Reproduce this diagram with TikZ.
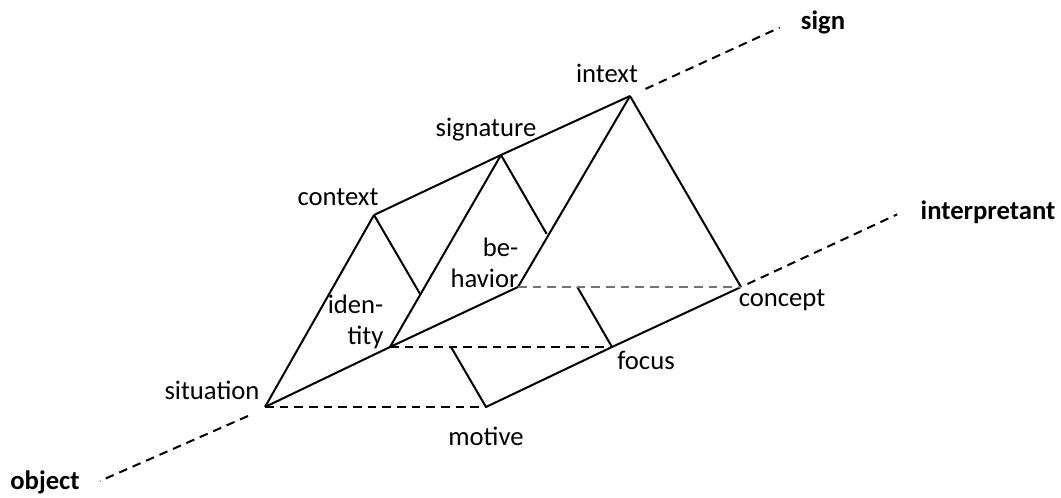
\documentclass[tikz,border=0pt]{standalone}
\usepackage{fontspec}
\setmainfont{Carlito}
\usepackage{tikz}
\usetikzlibrary{calc}
\tikzset{
  edge/.style={draw=black,line width=1.5pt,line join=miter},
  hid/.style={draw=black,line width=1.5pt,dash pattern=on 6.5pt off 4.5pt},
  ghid/.style={hid,draw=black!55},
  lab/.style={font=\fontsize{20}{23}\selectfont,inner sep=1pt},
  blab/.style={lab,font=\fontsize{20}{23}\selectfont\bfseries},
}
\begin{document}
\begin{tikzpicture}[x=0.75pt,y=-0.75pt]
\useasboundingbox (0,0) rectangle (1061,497);
% corners of the three triangles
\coordinate (sit) at (265,407);
\coordinate (ctx) at (374,215);
\coordinate (mot) at (486,407);
\coordinate (idn) at (390,347);
\coordinate (sig) at (501,155);
\coordinate (foc) at (612,347);
\coordinate (beh) at (518,287);
\coordinate (int) at (630,96);
\coordinate (con) at (741,287);
% where the back edges are cut
\coordinate (ctxA) at ($(ctx)!0.411!(mot)$);
\coordinate (ctxB) at ($(ctx)!0.6875!(mot)$);
\coordinate (sigA) at ($(sig)!0.411!(foc)$);
\coordinate (sigB) at ($(sig)!0.6875!(foc)$);
% free ends of the axes
\coordinate (signA) at ($(sig)!1.12!(int)$);
\coordinate (signB) at ($(sig)!2.16!(int)$);
\coordinate (intpA) at ($(foc)!1.05!(con)$);
\coordinate (intpB) at ($(foc)!2.21!(con)$);
\coordinate (objA) at (248,416);
\coordinate (objB) at (100,481);

\draw[edge] (sit)--(idn)--(beh);
\draw[edge] (ctx)--(sig)--(int);
\draw[edge] (mot)--(foc)--(con);
\foreach \u/\v in {sit/ctx,idn/sig,beh/int,int/con,ctx/ctxA,ctxB/mot,sig/sigA,sigB/foc}
  \draw[edge] (\u)--(\v);
\draw[hid] (sit)--(mot);
\draw[hid] (idn)--(foc);
\draw[ghid] (beh)--(con);
\foreach \u/\v in {signA/signB,intpA/intpB,objA/objB}
  \draw[hid] (\u)--(\v);

% labels
\node[lab] (lsit) at (212,390) {situation};
\node[lab] (lmot) at (486,436) {motive};
\node[lab] (lfoc) at (646,360) {focus};
\node[lab] (lcon) at (782,300) {concept};
\node[lab] (lctx) at (338,197) {context};
\node[lab] (lsig) at (486,130) {signature};
\node[lab] (lint) at (607,73) {intext};
\node[lab,anchor=east,align=right] (lidn) at (385,322) {iden-\\tity};
\node[lab,anchor=east,align=right] (lbeh) at (520,263) {be-\\havior};
\node[blab] (lsign) at (823,22) {sign};
\node[blab] (lintp) at (988,212) {interpretant};
\node[blab] (lobj) at (45,482) {object};
\end{tikzpicture}
\end{document}
